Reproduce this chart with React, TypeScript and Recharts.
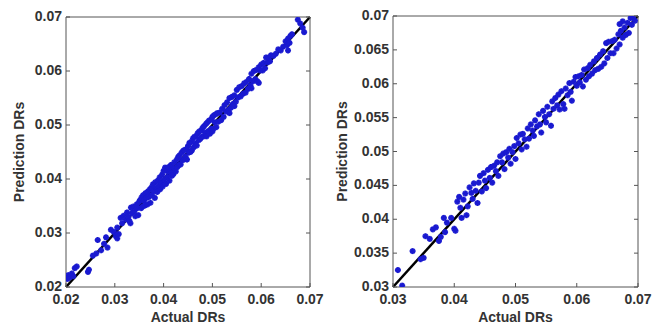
import { ScatterChart, Scatter, XAxis, YAxis, ReferenceLine } from "recharts";

// left panel: actual vs predicted
const leftActual = [
  0.0203, 0.0205, 0.0208, 0.0212, 0.0215, 0.0218, 0.0222, 0.0245, 0.0247, 0.0255,
  0.0262, 0.0265, 0.0272, 0.0278, 0.0282, 0.0285, 0.0292, 0.0298, 0.0302, 0.0305,
  0.0305, 0.0308, 0.0312, 0.0315, 0.0318, 0.0322, 0.0325, 0.0328, 0.033, 0.0332,
  0.0333, 0.0335, 0.0338, 0.034, 0.0342, 0.0345, 0.0346, 0.0348, 0.035, 0.0352,
  0.0354, 0.0355, 0.0357, 0.0358, 0.036, 0.0362, 0.0363, 0.0365, 0.0367, 0.0368,
  0.037, 0.0372, 0.0373, 0.0375, 0.0376, 0.0378, 0.038, 0.0382, 0.0383, 0.0385,
  0.0387, 0.0388, 0.039, 0.0392, 0.0393, 0.0395, 0.0397, 0.0398, 0.04, 0.0402,
  0.0403, 0.0405, 0.0407, 0.0408, 0.041, 0.0412, 0.0413, 0.0415, 0.0417, 0.0418,
  0.042, 0.0422, 0.0423, 0.0425, 0.0427, 0.0428, 0.043, 0.0432, 0.0433, 0.0435,
  0.0437, 0.0438, 0.044, 0.0442, 0.0443, 0.0445, 0.0447, 0.0448, 0.045, 0.0452,
  0.0453, 0.0455, 0.0457, 0.0458, 0.046, 0.0462, 0.0463, 0.0465, 0.0467, 0.0468,
  0.047, 0.0472, 0.0473, 0.0475, 0.0477, 0.0478, 0.048, 0.0482, 0.0483, 0.0485,
  0.0487, 0.0488, 0.049, 0.0492, 0.0493, 0.0495, 0.0497, 0.0498, 0.05, 0.0502,
  0.0503, 0.0505, 0.0507, 0.0508, 0.051, 0.0512, 0.0515, 0.0518, 0.052, 0.0523,
  0.0525, 0.0528, 0.053, 0.0533, 0.0535, 0.0538, 0.054, 0.0542, 0.0545, 0.0548,
  0.055, 0.0553, 0.0555, 0.0558, 0.056, 0.0563, 0.0565, 0.0568, 0.057, 0.0573,
  0.0575, 0.0578, 0.058, 0.0583, 0.0585, 0.0588, 0.059, 0.0592, 0.0595, 0.0598,
  0.06, 0.0603, 0.0605, 0.0608, 0.061, 0.0613, 0.0615, 0.0618, 0.062, 0.0625,
  0.063, 0.0635, 0.064, 0.0645, 0.065, 0.0653, 0.0655, 0.0658, 0.066, 0.0655,
  0.0663, 0.0675, 0.068, 0.0685, 0.0688, 0.0535, 0.0545, 0.0595, 0.058, 0.05,
];
const leftPredicted = [
  0.0215, 0.0222, 0.0218, 0.0225, 0.022, 0.0235, 0.0238, 0.0228, 0.0232, 0.0258,
  0.0262, 0.0287, 0.0268, 0.028, 0.0292, 0.0273, 0.0306, 0.0302, 0.0294, 0.029,
  0.031, 0.0298, 0.0328, 0.0318, 0.0332, 0.0325, 0.0338, 0.033, 0.0322, 0.0318,
  0.0347, 0.0337, 0.0349, 0.034, 0.0331, 0.0353, 0.0346, 0.0333, 0.0358, 0.0361,
  0.0346, 0.0366, 0.0349, 0.037, 0.036, 0.0351, 0.0374, 0.0365, 0.0353, 0.0377,
  0.0367, 0.0381, 0.0356, 0.0384, 0.037, 0.039, 0.0377, 0.0365, 0.0394, 0.0384,
  0.0376, 0.0397, 0.0387, 0.0403, 0.0381, 0.0394, 0.0408, 0.0386, 0.0415, 0.0399,
  0.0421, 0.0391, 0.0415, 0.0404, 0.0422, 0.0397, 0.0413, 0.0426, 0.0406, 0.0421,
  0.0409, 0.0431, 0.0419, 0.0414, 0.0436, 0.0422, 0.0441, 0.0426, 0.0444, 0.0427,
  0.0449, 0.0435, 0.0452, 0.0436, 0.0454, 0.0442, 0.0455, 0.0436, 0.0461, 0.0449,
  0.0467, 0.045, 0.0469, 0.0453, 0.0475, 0.0459, 0.0478, 0.0466, 0.048, 0.0462,
  0.0485, 0.0472, 0.0488, 0.0474, 0.049, 0.0478, 0.0495, 0.0479, 0.0498, 0.0486,
  0.0502, 0.0479, 0.0505, 0.0489, 0.0508, 0.0484, 0.051, 0.0493, 0.0515, 0.0493,
  0.0518, 0.0505, 0.052, 0.0496, 0.0522, 0.0506, 0.0523, 0.0509, 0.053, 0.0515,
  0.0537, 0.0525, 0.0542, 0.0528, 0.055, 0.0532, 0.0552, 0.0539, 0.0555, 0.0543,
  0.0565, 0.0551, 0.057, 0.0553, 0.0572, 0.0558, 0.0577, 0.056, 0.058, 0.0567,
  0.0585, 0.0573, 0.0595, 0.0581, 0.06, 0.0585, 0.0602, 0.0581, 0.0607, 0.0601,
  0.0612, 0.0601, 0.0615, 0.0605, 0.0625, 0.0616, 0.0625, 0.0618, 0.0629, 0.0628,
  0.0632, 0.064, 0.0638, 0.0645, 0.0655, 0.0648, 0.066, 0.0652, 0.0665, 0.0638,
  0.0668, 0.0695, 0.0688, 0.068, 0.0672, 0.0522, 0.0535, 0.0578, 0.0568, 0.0488,
];

// right panel
const rightActual = [
  0.0308, 0.0315, 0.0332, 0.0345, 0.035, 0.0353, 0.036, 0.0365, 0.037, 0.0375,
  0.0378, 0.0383, 0.0385, 0.0388, 0.0395, 0.04, 0.0402, 0.0405, 0.0408, 0.041,
  0.0412, 0.0415, 0.0418, 0.042, 0.0422, 0.0425, 0.0428, 0.043, 0.0432, 0.0435,
  0.0438, 0.044, 0.0442, 0.0445, 0.0448, 0.045, 0.0452, 0.0455, 0.0458, 0.046,
  0.0462, 0.0465, 0.0468, 0.047, 0.0472, 0.0475, 0.0478, 0.048, 0.0482, 0.0485,
  0.0488, 0.049, 0.0492, 0.0495, 0.0498, 0.05, 0.0502, 0.0505, 0.0508, 0.051,
  0.0512, 0.0515, 0.0518, 0.052, 0.0522, 0.0525, 0.0528, 0.053, 0.0532, 0.0535,
  0.0538, 0.054, 0.0542, 0.0545, 0.0548, 0.055, 0.0552, 0.0555, 0.0558, 0.056,
  0.0562, 0.0565, 0.0568, 0.057, 0.0572, 0.0575, 0.0578, 0.058, 0.0582, 0.0585,
  0.0588, 0.059, 0.0592, 0.0595, 0.0598, 0.06, 0.0603, 0.0605, 0.0608, 0.061,
  0.0612, 0.0615, 0.0618, 0.062, 0.0622, 0.0625, 0.0628, 0.063, 0.0633, 0.0635,
  0.0638, 0.064, 0.0643, 0.0645, 0.0648, 0.065, 0.0652, 0.0655, 0.0658, 0.066,
  0.0662, 0.0665, 0.0668, 0.067, 0.0672, 0.0675, 0.0678, 0.068, 0.0683, 0.0685,
  0.0688, 0.069, 0.0692, 0.0695, 0.0675, 0.067,
];
const rightPredicted = [
  0.0325, 0.0302, 0.0353, 0.0341, 0.0343, 0.0375, 0.0371, 0.0385, 0.0388, 0.0368,
  0.0374, 0.0402, 0.0381, 0.0395, 0.0402, 0.0386, 0.0383, 0.0426, 0.0433, 0.0417,
  0.0402, 0.0429, 0.0438, 0.0406, 0.0419, 0.0447, 0.0439, 0.043, 0.0453, 0.0442,
  0.0424, 0.0454, 0.0464, 0.0441, 0.0468, 0.0457, 0.0446, 0.0473, 0.0461, 0.0477,
  0.0454, 0.0479, 0.0471, 0.0484, 0.0464, 0.0493, 0.0484, 0.0497, 0.0474, 0.0499,
  0.0491, 0.0504, 0.0482, 0.0499, 0.0508, 0.0489, 0.052, 0.0512, 0.0525, 0.0503,
  0.0526, 0.0518, 0.0507, 0.0534, 0.0519, 0.054, 0.0531, 0.0523, 0.0546, 0.0537,
  0.0555, 0.054, 0.0528, 0.056, 0.0551, 0.0543, 0.0566, 0.0555, 0.0538, 0.0574,
  0.0563, 0.0579, 0.0568, 0.0584, 0.0562, 0.0589, 0.057, 0.0563, 0.0593, 0.0583,
  0.0601, 0.0588, 0.0575, 0.0603, 0.061, 0.0597, 0.0611, 0.0602, 0.0613, 0.0596,
  0.0621, 0.0606, 0.0623, 0.0611, 0.0628, 0.0615, 0.0633, 0.062, 0.0638, 0.0622,
  0.0643, 0.0625, 0.0648, 0.063, 0.066, 0.0638, 0.0662, 0.0645, 0.0663, 0.0645,
  0.0665, 0.0652, 0.0673, 0.0658, 0.0678, 0.0668, 0.0683, 0.0672, 0.069, 0.0675,
  0.0697, 0.0687, 0.0698, 0.0693, 0.0692, 0.0688,
];

const leftTicks = [0.02, 0.03, 0.04, 0.05, 0.06, 0.07];
const rightXTicks = [0.03, 0.04, 0.05, 0.06, 0.07];
const rightYTicks = [0.03, 0.035, 0.04, 0.045, 0.05, 0.055, 0.06, 0.065, 0.07];

const font = "'Liberation Sans', Arial, sans-serif";
const textStyle = { fontFamily: font, fontWeight: 700, fontSize: 14, fill: "#333" };
const frame = "#555";
const fmt = (v: number) => String(parseFloat(v.toFixed(3)));

const BottomTick = ({ x, y, payload }: any) => (
  <g>
    <line x1={x} x2={x} y1={y} y2={y - 4} stroke={frame} />
    <text x={x} y={y + 17} textAnchor="middle" style={textStyle}>
      {fmt(payload.value)}
    </text>
  </g>
);

const LeftTick = ({ x, y, payload }: any) => (
  <g>
    <line x1={x} x2={x + 4} y1={y} y2={y} stroke={frame} />
    <text x={x - 4} y={y + 4} textAnchor="end" style={textStyle}>
      {fmt(payload.value)}
    </text>
  </g>
);

const TopTick = ({ x, y }: any) => <line x1={x} x2={x} y1={y} y2={y + 4} stroke={frame} />;
const RightTick = ({ x, y }: any) => <line x1={x} x2={x - 4} y1={y} y2={y} stroke={frame} />;

const Star = ({ cx, cy }: any) => (
  <g stroke="#1a1ad0" strokeWidth={2}>
    <line x1={cx - 3} x2={cx + 3} y1={cy} y2={cy} />
    <line x1={cx} x2={cx} y1={cy - 3} y2={cy + 3} />
    <line x1={cx - 2.1} x2={cx + 2.1} y1={cy - 2.1} y2={cy + 2.1} />
    <line x1={cx - 2.1} x2={cx + 2.1} y1={cy + 2.1} y2={cy - 2.1} />
  </g>
);

interface PanelProps {
  actual: number[];
  predicted: number[];
  lo: number;
  xTicks: number[];
  yTicks: number[];
  width: number;
  yAxisWidth: number;
  top: number;
  right: number;
  yLabelDx: number;
}

function Panel(p: PanelProps) {
  const data = p.actual.map((a, i) => ({ actual: a, predicted: p.predicted[i] }));
  const domain: [number, number] = [p.lo, 0.07];
  const labelStyle = { fontFamily: font, fontWeight: 700, fontSize: 14, fill: "#333" };
  return (
    <ScatterChart
      width={p.width}
      height={327}
      margin={{ top: p.top - 1, right: p.right - 1, bottom: 0, left: 0 }}
    >
      <XAxis
        xAxisId="b"
        type="number"
        dataKey="actual"
        domain={domain}
        ticks={p.xTicks}
        allowDataOverflow
        height={40}
        tickSize={0}
        tickMargin={0}
        tickLine={false}
        tick={<BottomTick />}
        axisLine={{ stroke: frame }}
        label={{ value: "Actual DRs", position: "center", dy: 10, style: labelStyle }}
      />
      <XAxis
        xAxisId="t"
        orientation="top"
        type="number"
        domain={domain}
        ticks={p.xTicks}
        allowDataOverflow
        height={1}
        tickSize={0}
        tickMargin={0}
        tickLine={false}
        tick={<TopTick />}
        axisLine={{ stroke: frame }}
      />
      <YAxis
        yAxisId="l"
        type="number"
        dataKey="predicted"
        domain={domain}
        ticks={p.yTicks}
        allowDataOverflow
        width={p.yAxisWidth}
        tickSize={0}
        tickMargin={0}
        tickLine={false}
        tick={<LeftTick />}
        axisLine={{ stroke: frame }}
        label={{
          value: "Prediction DRs",
          angle: -90,
          position: "center",
          dx: p.yLabelDx,
          style: labelStyle,
        }}
      />
      <YAxis
        yAxisId="r"
        orientation="right"
        type="number"
        domain={domain}
        ticks={p.yTicks}
        allowDataOverflow
        width={1}
        tickSize={0}
        tickMargin={0}
        tickLine={false}
        tick={<RightTick />}
        axisLine={{ stroke: frame }}
      />
      <Scatter
        xAxisId="b"
        yAxisId="l"
        data={data}
        shape={<Star />}
        isAnimationActive={false}
      />
      <ReferenceLine
        xAxisId="b"
        yAxisId="l"
        segment={[
          { x: p.lo, y: p.lo },
          { x: 0.07, y: 0.07 },
        ]}
        stroke="#000"
        strokeWidth={2.5}
      />
    </ScatterChart>
  );
}

export default function App() {
  return (
    <div style={{ position: "absolute", left: 0, top: 0, width: 659, height: 327, background: "#fff" }}>
      <div style={{ position: "absolute", left: 0, top: 0 }}>
        <Panel
          actual={leftActual}
          predicted={leftPredicted}
          lo={0.02}
          xTicks={leftTicks}
          yTicks={leftTicks}
          width={330}
          yAxisWidth={66}
          top={17}
          right={20}
          yLabelDx={-14}
        />
      </div>
      <div style={{ position: "absolute", left: 330, top: 0 }}>
        <Panel
          actual={rightActual}
          predicted={rightPredicted}
          lo={0.03}
          xTicks={rightXTicks}
          yTicks={rightYTicks}
          width={329}
          yAxisWidth={63}
          top={16}
          right={21}
          yLabelDx={-19}
        />
      </div>
    </div>
  );
}
